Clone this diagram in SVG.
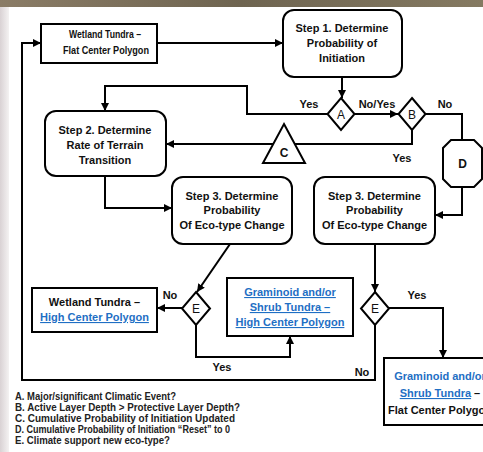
<svg xmlns="http://www.w3.org/2000/svg" width="483" height="452" viewBox="0 0 483 452">
<defs>
<linearGradient id="topg" x1="0" y1="0" x2="1" y2="0">
<stop offset="0" stop-color="#8a7c66"/><stop offset="0.5" stop-color="#6e6450"/><stop offset="1" stop-color="#857a62"/>
</linearGradient>
<linearGradient id="leftg" x1="0" y1="0" x2="1" y2="0">
<stop offset="0" stop-color="#d9d2d4"/><stop offset="1" stop-color="#f4f2f2"/>
</linearGradient>
<marker id="ah" viewBox="0 0 10 10" refX="10" refY="5" markerWidth="8" markerHeight="8" markerUnits="userSpaceOnUse" orient="auto">
<path d="M0,0 L10,5 L0,10 z" fill="#000"/>
</marker>
<style>
.box{fill:#fff;stroke:#000;stroke-width:2}
.t{font-family:"Liberation Sans",Arial,sans-serif;font-size:11px;font-weight:bold;text-anchor:middle;fill:#111}
.b{fill:#1f6fc4;text-decoration:underline}
.bl{fill:#1f6fc4}
.lbl{font-family:"Liberation Sans",Arial,sans-serif;font-size:11px;font-weight:bold;text-anchor:middle;fill:#111}
.sym{font-family:"Liberation Sans",Arial,sans-serif;font-size:12px;text-anchor:middle;fill:#111}
.leg{font-family:"Liberation Sans",Arial,sans-serif;font-size:10px;font-weight:bold;fill:#222}
.c{fill:none;stroke:#000;stroke-width:2}
.ca{fill:none;stroke:#000;stroke-width:2;marker-end:url(#ah)}
</style>
</defs>
<rect width="483" height="452" fill="#fff"/>
<rect x="0" y="0" width="9" height="452" fill="url(#leftg)"/>
<rect x="0" y="0" width="483" height="7" fill="url(#topg)"/>

<g id="connectors">
<path class="ca" d="M157,43 H283"/>
<path class="ca" d="M342,77 V98"/>
<path class="ca" d="M328,114 H247 V86 H105 V111"/>
<path class="ca" d="M355,114 H398"/>
<path class="c" d="M425,114 H462 V140"/>
<path class="ca" d="M462,187 V215 H435"/>
<path class="ca" d="M412,130 V144 H166"/>
<path class="ca" d="M105,176 V208 H172"/>
<path class="ca" d="M230,244 L197,292"/>
<path class="ca" d="M182,308 H157"/>
<path class="ca" d="M196,325 V357 H290 V336"/>
<path class="ca" d="M375,244 V292"/>
<path class="ca" d="M388,308 H443 V358"/>
<path class="ca" d="M375,325 V380 H22 V43 H41"/>
</g>

<g id="wetland-flat">
<rect class="box" x="41" y="24" width="116" height="39"/>
<text class="t" x="105" y="38" font-size="10.5" textLength="72" lengthAdjust="spacingAndGlyphs">Wetland Tundra –</text>
<text class="t" x="106" y="54" font-size="10.5" textLength="86" lengthAdjust="spacingAndGlyphs">Flat Center Polygon</text>
</g>
<g id="step1">
<rect class="box" x="283" y="10" width="119" height="67" rx="11"/>
<text class="t" x="342" y="32">Step 1. Determine</text>
<text class="t" x="342" y="47">Probability of</text>
<text class="t" x="342" y="62">Initiation</text>
</g>
<g id="step2">
<rect class="box" x="45" y="111" width="121" height="65" rx="11"/>
<text class="t" x="105" y="134">Step 2. Determine</text>
<text class="t" x="105" y="149">Rate of Terrain</text>
<text class="t" x="105" y="164">Transition</text>
</g>
<g id="step3-left">
<rect class="box" x="172" y="177" width="120" height="67" rx="11"/>
<text class="t" x="232" y="200">Step 3. Determine</text>
<text class="t" x="232" y="214">Probability</text>
<text class="t" x="232" y="229">Of Eco-type Change</text>
</g>
<g id="step3-right">
<rect class="box" x="314" y="177" width="121" height="67" rx="11"/>
<text class="t" x="374.5" y="200">Step 3. Determine</text>
<text class="t" x="374.5" y="214">Probability</text>
<text class="t" x="374.5" y="229">Of Eco-type Change</text>
</g>
<g id="A">
<path class="box" d="M341,98 L354.5,114 L341,130 L327.5,114 z"/>
<text class="sym" x="341" y="118.5">A</text>
</g>
<g id="B">
<path class="box" d="M412,98 L425.5,114 L412,130 L398.5,114 z"/>
<text class="sym" x="412" y="118.5">B</text>
</g>
<g id="C">
<path class="box" d="M284,124 L305,163 L263,163 z"/>
<text class="sym" x="284" y="157" font-weight="bold">C</text>
</g>
<g id="D">
<path class="box" d="M451,140 H474 L482,148 V179 L474,187 H451 L443,179 V148 z"/>
<text class="sym" x="462.5" y="168" font-weight="bold">D</text>
</g>
<g id="E-left">
<path class="box" d="M196,292 L210,308.5 L196,325 L182,308.5 z"/>
<text class="sym" x="196" y="313">E</text>
</g>
<g id="E-right">
<path class="box" d="M375,292 L389,308.5 L375,325 L361,308.5 z"/>
<text class="sym" x="375" y="313">E</text>
</g>
<g id="wetland-high">
<rect class="box" x="32" y="288" width="125" height="44"/>
<text class="t" x="94.5" y="306">Wetland Tundra –</text>
<text class="t b" x="94.5" y="321">High Center Polygon</text>
</g>
<g id="graminoid-high">
<rect class="box" x="227" y="278" width="126" height="58"/>
<text class="t b" x="290" y="296">Graminoid and/or</text>
<text class="t b" x="290" y="311">Shrub Tundra –</text>
<text class="t b" x="290" y="326">High Center Polygon</text>
</g>
<g id="graminoid-flat">
<rect class="box" x="384" y="358" width="112" height="67"/>
<text class="t bl" x="440" y="380">Graminoid and/or</text>
<text class="t" x="440" y="397"><tspan class="b">Shrub Tundra</tspan> –</text>
<text class="t" x="440" y="414">Flat Center Polygon</text>
</g>

<g id="labels">
<text class="lbl" x="309" y="108">Yes</text>
<text class="lbl" x="377" y="108">No/Yes</text>
<text class="lbl" x="445" y="108">No</text>
<text class="lbl" x="402" y="162">Yes</text>
<text class="lbl" x="170" y="299">No</text>
<text class="lbl" x="222" y="371">Yes</text>
<text class="lbl" x="417" y="299">Yes</text>
<text class="lbl" x="362" y="376">No</text>
</g>

<g id="legend">
<text class="leg" x="15" y="400" textLength="161" lengthAdjust="spacingAndGlyphs">A. Major/significant Climatic Event?</text>
<text class="leg" x="15" y="411" textLength="225" lengthAdjust="spacingAndGlyphs">B. Active Layer Depth &gt; Protective Layer Depth?</text>
<text class="leg" x="15" y="422" textLength="220" lengthAdjust="spacingAndGlyphs">C. Cumulative Probability of Initiation Updated</text>
<text class="leg" x="15" y="433" textLength="215" lengthAdjust="spacingAndGlyphs">D. Cumulative Probability of Initiation “Reset” to 0</text>
<text class="leg" x="15" y="444" textLength="155" lengthAdjust="spacingAndGlyphs">E. Climate support new eco-type?</text>
</g>
</svg>
